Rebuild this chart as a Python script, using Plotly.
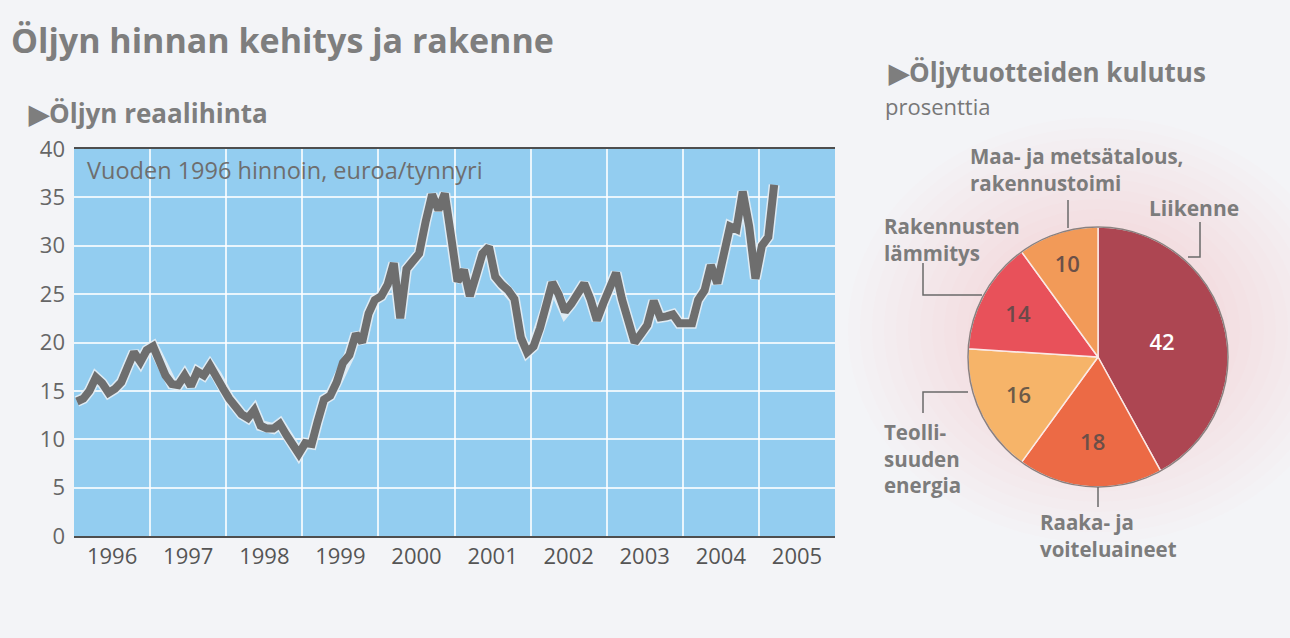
import plotly.graph_objects as go
import pandas as pd

# ---------------- data ----------------
price = [13.9, 14.2, 15.0, 16.4, 15.8, 14.8, 15.2, 15.9, 17.5, 19.0, 18.0, 19.2,
         19.6, 18.2, 16.6, 15.7, 15.6, 16.6, 15.5, 17.0, 16.6, 17.6, 16.6, 15.3,
         14.2, 13.4, 12.6, 12.2, 13.0, 11.4, 11.1, 11.1, 11.6, 10.5, 9.4, 8.5,
         9.6, 9.5, 11.8, 14.1, 14.5, 15.9, 17.9, 18.7, 20.9, 20.0, 23.0, 24.4,
         24.8, 26.0, 28.2, 22.5, 27.6, 28.4, 29.2, 32.5, 35.3, 33.7, 35.4, 31.0,
         26.3, 27.5, 24.8, 27.0, 29.2, 29.9, 26.8, 26.0, 25.4, 24.5, 20.5, 19.0,
         19.6, 21.5, 23.5, 26.2, 25.0, 23.2, 24.0, 25.0, 26.1, 24.5, 22.3, 24.0,
         25.8, 27.2, 24.5, 21.8, 20.0, 20.9, 21.8, 24.3, 22.6, 22.7, 22.9, 22.0,
         21.9, 22.0, 24.4, 25.4, 28.0, 26.1, 29.0, 32.0, 31.7, 35.6, 32.0, 26.6,
         30.0, 30.9, 36.3]
dates = pd.date_range(start="1996-01-01", periods=len(price), freq="MS") + pd.Timedelta(days=14)

y_ticks = [0, 5, 10, 15, 20, 25, 30, 35, 40]

pie_labels = ["Liikenne", "Raaka- ja voiteluaineet", "Teollisuuden energia",
              "Rakennusten lämmitys", "Maa- ja metsätalous, rakennustoimi"]
pie_values = [42, 18, 16, 14, 10]
pie_colors = ["#ad4652", "#ec6a45", "#f6b469", "#e8515a", "#f29a58"]
pie_text_colors = ["#ffffff", "#6b4f48", "#6b5a48", "#6b4a4a", "#6b5048"]

# ---------------- helpers ----------------
W, H = 1290, 638
def fx(x):
    return x / W
def fy(y):
    return 1 - y / H

FONT = "Open Sans"
GRAY = "#7c7c7c"

fig = go.Figure()

# halo under the line
fig.add_trace(go.Scatter(x=dates, y=price, mode="lines",
                         line=dict(color="rgba(235,240,245,0.85)", width=11),
                         hoverinfo="skip", showlegend=False))
fig.add_trace(go.Scatter(x=dates, y=price, mode="lines",
                         line=dict(color="#6e6e6e", width=8),
                         showlegend=False))

fig.add_trace(go.Pie(labels=pie_labels, values=pie_values, sort=False,
                     direction="clockwise", rotation=0,
                     marker=dict(colors=pie_colors, line=dict(color="#fbe9e6", width=1.5)),
                     textinfo="value", textposition="inside",
                     insidetextorientation="horizontal",
                     textfont=dict(family=FONT, size=22, color=pie_text_colors, weight=600),
                     domain=dict(x=[fx(968), fx(1228)], y=[fy(487), fy(227)]),
                     showlegend=False, hoverinfo="label+value"))

fig.update_layout(
    width=W, height=H, autosize=False,
    margin=dict(l=0, r=0, t=0, b=0, pad=0, autoexpand=False),
    paper_bgcolor="#f3f4f7",
    plot_bgcolor="#93cdf0",
    xaxis=dict(domain=[fx(74), fx(835)], type="date", automargin=False,
               range=["1996-01-01", "2006-01-01"],
               tick0="1996-01-01", dtick="M12", tickformat="%Y",
               ticklabelmode="period",
               showgrid=True, gridcolor="rgba(255,255,255,0.8)", gridwidth=1.5,
               showline=True, mirror=True, linecolor="#4e4e4e", linewidth=2,
               ticks="", zeroline=False,
               tickfont=dict(family=FONT, size=22, color="#555555")),
    yaxis=dict(domain=[fy(536), fy(149)], range=[0, 40], automargin=False,
               tickvals=y_ticks, ticks="",
               showgrid=True, gridcolor="rgba(255,255,255,0.8)", gridwidth=1.5,
               zeroline=False, showline=False,
               ticklabelstandoff=8,
               tickfont=dict(family=FONT, size=22, color="#666666")),
)

# soft pink glow behind the pie
for i in range(14):
    r = 250 - i * 12
    fig.add_shape(type="circle", xref="paper", yref="paper", layer="below",
                  x0=fx(1098 - r), x1=fx(1098 + r), y0=fy(330 + r * 0.85), y1=fy(330 - r * 0.85),
                  fillcolor="rgba(240,150,170,0.022)", line=dict(width=0))

# pie outline
fig.add_shape(type="circle", xref="paper", yref="paper",
              x0=fx(968), x1=fx(1228), y0=fy(487), y1=fy(227),
              line=dict(color="#8a8080", width=1.5))

# connector lines
conn = [
    [(1068, 200), (1068, 228)],                       # Maa- ja metsätalous
    [(1200, 222), (1200, 257), (1188, 257)],          # Liikenne
    [(923, 263), (923, 295), (982, 295)],             # Rakennusten lämmitys
    [(968, 392), (923, 392), (923, 413)],             # Teollisuuden energia
    [(1098, 487), (1098, 507)],                       # Raaka- ja voiteluaineet
]
for pts in conn:
    path = "M " + " L ".join(f"{fx(x)},{fy(y)}" for x, y in pts)
    fig.add_shape(type="path", xref="paper", yref="paper", path=path,
                  line=dict(color="#6a6a6a", width=1.5))

def note(text, x, y, size, bold=False, color=GRAY, xanchor="left"):
    fig.add_annotation(text=text, xref="paper", yref="paper", x=fx(x), y=fy(y),
                       xanchor=xanchor, yanchor="middle", showarrow=False, align="left",
                       font=dict(family=FONT, size=size, color=color,
                                 weight=700 if bold else 400))

note("Öljyn hinnan kehitys ja rakenne", 9, 40, 34, bold=True, color="#7e7e7e")
note("▶Öljyn reaalihinta", 26, 113, 26, bold=True, color="#7e7e7e")
note("Vuoden 1996 hinnoin, euroa/tynnyri", 85, 170, 23.5, color="#6e6e6e")
note("▶Öljytuotteiden kulutus", 886, 72, 26, bold=True, color="#7e7e7e")
note("prosenttia", 883, 106, 22, color="#777777")

note("Maa- ja metsätalous,<br>rakennustoimi", 968, 170, 20.5, bold=True)
note("Liikenne", 1147, 208, 21, bold=True)
note("Rakennusten<br>lämmitys", 882, 240, 20.5, bold=True)
note("Teolli-<br>suuden<br>energia", 882, 458, 20.5, bold=True)
note("Raaka- ja<br>voiteluaineet", 1038, 535, 20.5, bold=True)

fig.write_html("out.html", config={"displayModeBar": False},
               post_script="document.body.style.margin='0';document.body.style.overflow='hidden';")
